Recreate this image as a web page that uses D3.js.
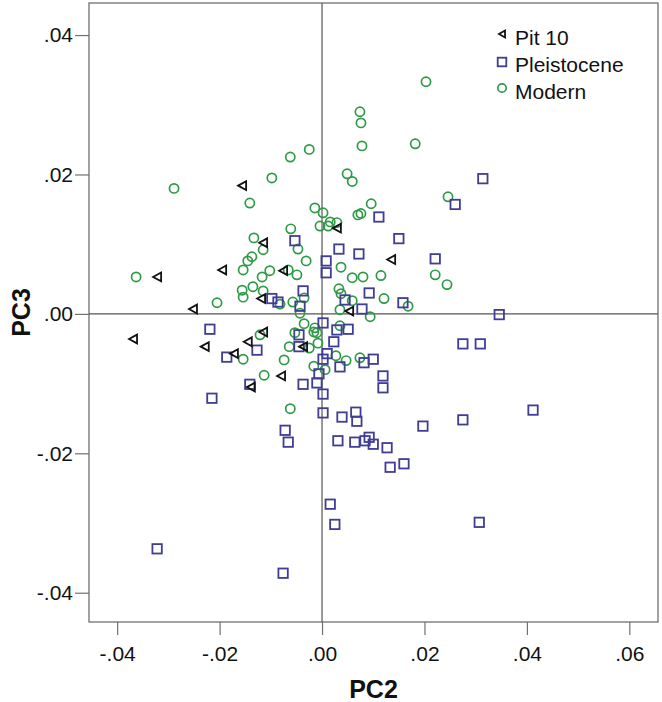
<!DOCTYPE html>
<html><head><meta charset="utf-8">
<script src="https://cdn.jsdelivr.net/npm/d3@7"></script>
<style>body{margin:0;background:#fff}svg{display:block}text{font-family:"Liberation Sans",Arial,sans-serif}</style>
</head><body><svg id="c" width="662" height="702"></svg>
<script>
const seriesNames = ["Pit 10", "Pleistocene", "Modern"];
const xTicks = [-0.04, -0.02, 0, 0.02, 0.04, 0.06];
const yTicks = [-0.04, -0.02, 0, 0.02, 0.04];
const xTitle = "PC2", yTitle = "PC3";

const pit10 = [
 [-0.0156,0.0184],[0.0029,0.0123],[-0.0115,0.0102],[-0.0195,0.0063],[-0.0076,0.0062],
 [-0.0322,0.0053],[0.0135,0.0078],[-0.0119,0.0022],[-0.0252,0.0007],[0.0053,0.0004],
 [-0.0369,-0.0036],[-0.0229,-0.0047],[-0.0145,-0.0040],[-0.0115,-0.0026],[-0.0037,-0.0047],
 [-0.0172,-0.0057],[-0.0080,-0.0089],[-0.0139,-0.0105]
];
const pleistocene = [
 [0.0314,0.0194],[0.0260,0.0157],[0.0111,0.0139],[-0.0053,0.0105],[0.0150,0.0108],
 [0.0033,0.0093],[0.0072,0.0086],[0.0221,0.0079],[0.0008,0.0076],[0.0008,0.0059],
 [-0.0037,0.0033],[0.0092,0.0030],[-0.0098,0.0022],[-0.0086,0.0017],[0.0045,0.0020],
 [-0.0043,0.0011],[0.0158,0.0016],[0.0078,0.0007],[0.0346,-0.0001],[0.0002,-0.0013],
 [0.0029,-0.0023],[0.0051,-0.0022],[-0.0219,-0.0022],[-0.0045,-0.0030],[0.0023,-0.0040],
 [-0.0127,-0.0052],[-0.0045,-0.0047],[0.0275,-0.0043],[0.0309,-0.0043],[-0.0186,-0.0062],
 [0.0002,-0.0065],[0.0010,-0.0057],[0.0035,-0.0076],[0.0082,-0.0070],[0.0100,-0.0065],
 [-0.0006,-0.0086],[-0.0141,-0.0101],[-0.0037,-0.0101],[-0.0010,-0.0099],[0.0002,-0.0115],
 [0.0119,-0.0089],[0.0119,-0.0106],[-0.0215,-0.0121],[0.0002,-0.0142],[0.0039,-0.0148],
 [0.0066,-0.0141],[0.0068,-0.0154],[-0.0072,-0.0167],[-0.0066,-0.0184],[0.0031,-0.0182],
 [0.0064,-0.0184],[0.0084,-0.0182],[0.0092,-0.0177],[0.0100,-0.0187],[0.0127,-0.0192],
 [0.0133,-0.0220],[0.0160,-0.0215],[0.0197,-0.0161],[0.0275,-0.0152],[0.0412,-0.0138],
 [0.0016,-0.0273],[0.0025,-0.0302],[0.0307,-0.0299],[-0.0322,-0.0337],[-0.0076,-0.0372]
];
const modern = [
 [0.0203,0.0333],[0.0074,0.0290],[0.0076,0.0274],[0.0078,0.0241],[0.0182,0.0244],
 [-0.0025,0.0236],[-0.0062,0.0225],[0.0049,0.0201],[0.0059,0.0190],[-0.0098,0.0195],
 [-0.0289,0.0180],[0.0246,0.0168],[-0.0141,0.0159],[-0.0014,0.0152],[0.0002,0.0145],
 [0.0096,0.0158],[0.0070,0.0142],[0.0076,0.0144],[0.0016,0.0132],[0.0029,0.0131],
 [-0.0004,0.0126],[0.0012,0.0126],[-0.0061,0.0122],[-0.0133,0.0109],[-0.0115,0.0092],
 [-0.0047,0.0093],[-0.0031,0.0076],[0.0037,0.0067],[-0.0137,0.0082],[-0.0145,0.0076],
 [-0.0154,0.0063],[-0.0102,0.0062],[-0.0066,0.0063],[-0.0049,0.0056],[-0.0117,0.0053],
 [-0.0363,0.0053],[0.0059,0.0052],[0.0080,0.0053],[0.0115,0.0055],[0.0221,0.0056],
 [0.0244,0.0042],[-0.0156,0.0034],[-0.0154,0.0024],[-0.0135,0.0039],[-0.0115,0.0033],
 [-0.0035,0.0023],[-0.0082,0.0014],[-0.0057,0.0017],[-0.0043,0.0001],[-0.0205,0.0016],
 [0.0033,0.0036],[0.0037,0.0029],[0.0059,0.0019],[0.0121,0.0022],[0.0168,0.0011],
 [0.0035,0.0006],[0.0094,-0.0004],[-0.0035,-0.0014],[0.0035,-0.0017],[-0.0014,-0.0020],
 [-0.0010,-0.0027],[-0.0016,-0.0026],[-0.0121,-0.0030],[-0.0053,-0.0027],[-0.0008,-0.0042],
 [-0.0025,-0.0049],[-0.0064,-0.0047],[-0.0154,-0.0065],[-0.0074,-0.0066],[0.0027,-0.0060],
 [0.0047,-0.0067],[0.0074,-0.0063],[-0.0016,-0.0075],[0.0006,-0.0080],[-0.0113,-0.0088],
 [-0.0062,-0.0136]
];

const svg = d3.select("#c");
const L = 89, R = 658, T = 3, B = 622;
const x = d3.scaleLinear().domain([-0.0455, 0.0656]).range([L, R]);
const y = d3.scaleLinear().domain([-0.0442, 0.0446]).range([B, T]);
const fmt = v => (v < 0 ? "-" : "") + Math.abs(v).toFixed(2).replace(/^0/, "");
const axisCol = "#707070";

// axes
const gx = svg.append("g").attr("transform", `translate(0,${B})`)
  .call(d3.axisBottom(x).tickValues(xTicks).tickFormat(fmt).tickSizeOuter(0).tickSize(13).tickPadding(11));
const gy = svg.append("g").attr("transform", `translate(${L},0)`)
  .call(d3.axisLeft(y).tickValues(yTicks).tickFormat(fmt).tickSizeOuter(0).tickSize(14).tickPadding(2));
[gx, gy].forEach(g => {
  g.select(".domain").remove();
  g.selectAll("line").attr("stroke", axisCol).attr("stroke-width", 1.2);
  g.selectAll("text").attr("fill", "#111").style("font-size", "21px")
   .style("font-family", '"Liberation Sans",Arial,sans-serif');
});

// frame
svg.append("rect").attr("x", L).attr("y", T).attr("width", R - L).attr("height", B - T)
  .attr("fill", "none").attr("stroke", axisCol).attr("stroke-width", 1.3);
// reference lines
svg.append("line").attr("x1", x(0)).attr("x2", x(0)).attr("y1", T).attr("y2", B)
  .attr("stroke", "#555").attr("stroke-width", 1.2);
svg.append("line").attr("x1", L).attr("x2", R).attr("y1", y(0)).attr("y2", y(0))
  .attr("stroke", "#555").attr("stroke-width", 1.2);

const triPath = "M-4,0L4,-4.4L4,4.4Z";
const green = "#2f9a45", blue = "#3f3d94";

svg.append("g").selectAll("circle").data(modern).join("circle")
  .attr("cx", d => x(d[0])).attr("cy", d => y(d[1])).attr("r", 4.6)
  .attr("fill", "none").attr("stroke", green).attr("stroke-width", 1.7);
svg.append("g").selectAll("rect").data(pleistocene).join("rect")
  .attr("x", d => x(d[0]) - 4.7).attr("y", d => y(d[1]) - 4.7).attr("width", 9.4).attr("height", 9.4)
  .attr("fill", "none").attr("stroke", blue).attr("stroke-width", 1.8);
svg.append("g").selectAll("path").data(pit10).join("path")
  .attr("transform", d => `translate(${x(d[0])},${y(d[1])})`).attr("d", triPath)
  .attr("fill", "none").attr("stroke", "#111").attr("stroke-width", 1.8);

// legend
const lg = svg.append("g");
const ly = [34, 62, 88];
lg.append("path").attr("transform", `translate(502,${ly[0]})`).attr("d", "M-3,0L3,-3.5L3,3.5Z")
  .attr("fill", "none").attr("stroke", "#111").attr("stroke-width", 1.8);
lg.append("rect").attr("x", 502 - 4.3).attr("y", ly[1] - 4.3).attr("width", 8.6).attr("height", 8.6)
  .attr("fill", "none").attr("stroke", blue).attr("stroke-width", 1.8);
lg.append("circle").attr("cx", 502).attr("cy", ly[2]).attr("r", 4.2).attr("fill", "none")
  .attr("stroke", green).attr("stroke-width", 1.7);
seriesNames.forEach((n, i) => lg.append("text").attr("x", 515).attr("y", [45, 72, 99][i])
  .style("font-size", "21px").attr("fill", "#111").text(n));

// axis titles
svg.append("text").attr("x", (L + R) / 2).attr("y", 698).attr("text-anchor", "middle")
  .style("font-size", "25px").style("font-weight", "bold").attr("fill", "#111").text(xTitle);
svg.append("text").attr("transform", `translate(30,${(T + B) / 2}) rotate(-90)`).attr("text-anchor", "middle")
  .style("font-size", "25px").style("font-weight", "bold").attr("fill", "#111").text(yTitle);
</script></body></html>
